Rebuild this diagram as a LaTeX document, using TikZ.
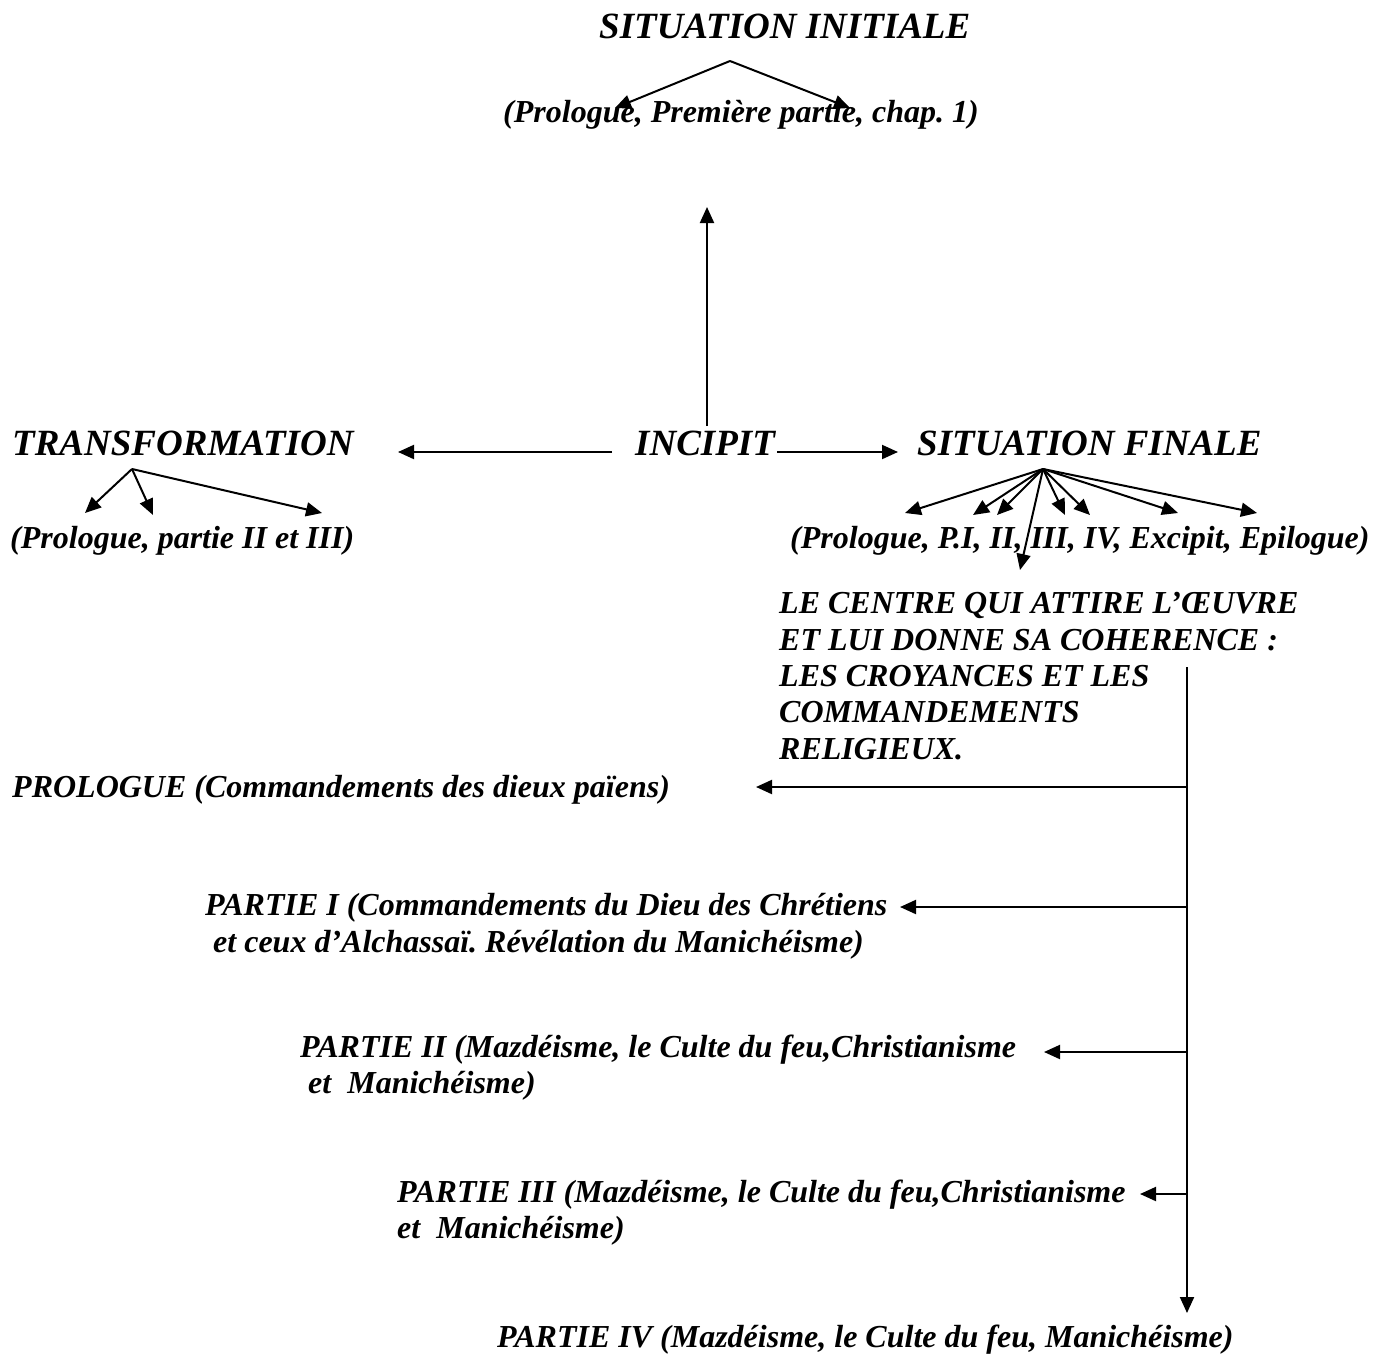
\documentclass[tikz,border=0pt]{standalone}
\usepackage{fontspec}
\setmainfont{Liberation Serif}
\usetikzlibrary{arrows.meta}
\frenchspacing
\begin{document}
\begin{tikzpicture}[x=1pt,y=-1pt,
  txt/.style={anchor=base west, inner sep=0pt, font=\fontsize{32}{36}\selectfont\bfseries\itshape},
  head/.style={anchor=base west, inner sep=0pt, font=\fontsize{37}{40}\selectfont\bfseries\itshape},
  ln/.style={line width=2pt},
  arr/.style={ln, -{Triangle[length=16pt,width=14pt]}}]
\useasboundingbox[fill=white] (0,0) rectangle (1378,1354);

% headings
\node[head] (si)  at (599,38)  {SITUATION INITIALE};
\node[txt]  (sisub) at (503,122) {(Prologue, Première partie, chap. 1)};
\node[head] (tr)  at (12,455)  {TRANSFORMATION};
\node[head] (inc) at (635,455) {INCIPIT};
\node[head] (sf)  at (917,455) {SITUATION FINALE};
\node[txt]  (trsub) at (10,548)  {(Prologue, partie II et III)};
\node[txt]  (sfsub) at (790,548) {(Prologue, P.I, II, III, IV, Excipit, Epilogue)};

% the centre of the work
\node[txt] (cen1) at (779,613) {LE CENTRE QUI ATTIRE L’ŒUVRE};
\node[txt] (cen2) at (779,650) {ET LUI DONNE SA COHERENCE :};
\node[txt] (cen3) at (779,686) {LES CROYANCES ET LES};
\node[txt] (cen4) at (779,722) {COMMANDEMENTS};
\node[txt] (cen5) at (779,759) {RELIGIEUX.};

% parts
\node[txt] (pro) at (12,797) {PROLOGUE (Commandements des dieux païens)};
\node[txt] (p1a) at (205,915) {PARTIE I (Commandements du Dieu des Chrétiens};
\node[txt] (p1b) at (213,952) {et ceux d’Alchassaï. Révélation du Manichéisme)};
\node[txt] (p2a) at (300,1057) {PARTIE II (Mazdéisme, le Culte du feu,Christianisme};
\node[txt] (p2b) at (308,1093) {et \ Manichéisme)};
\node[txt] (p3a) at (397,1202) {PARTIE III (Mazdéisme, le Culte du feu,Christianisme};
\node[txt] (p3b) at (397,1238) {et \ Manichéisme)};
\node[txt] (p4)  at (497,1347) {PARTIE IV (Mazdéisme, le Culte du feu, Manichéisme)};

% connector end points
\coordinate (incup)  at (707,426);
\coordinate (uptip)  at (707,207);
\coordinate (incl)   at (612,452);
\coordinate (trtip)  at (398,452);
\coordinate (incr)   at (777,452);
\coordinate (sftip)  at (898,452);
\coordinate (siap)   at (730,61);
\coordinate (trap)   at (132,469);
\coordinate (sfap)   at (1043,469);
\coordinate (vtop)   at (1187,667);
\coordinate (vbot)   at (1187,1313);
\coordinate (bpro)   at (1187,787);
\coordinate (bp1)    at (1187,907);
\coordinate (bp2)    at (1187,1052);
\coordinate (bp3)    at (1187,1194);
\coordinate (tpro)   at (756,787);
\coordinate (tp1)    at (900,907);
\coordinate (tp2)    at (1044,1052);
\coordinate (tp3)    at (1140,1194);

% incipit arrows
\draw[arr] (incup) -- (uptip);
\draw[arr] (incl) -- (trtip);
\draw[arr] (incr) -- (sftip);

% fans
\draw[arr] (siap) -- (615,108);
\draw[arr] (siap) -- (850,108);

\draw[arr] (trap) -- (85,513);
\draw[arr] (trap) -- (153,515);
\draw[arr] (trap) -- (322,513);

\foreach \p in {(905,513),(973,515),(997,515),(1065,515),(1090,515),(1178,513),(1257,513),(1020,570)}
  \draw[arr] (sfap) -- \p;

% vertical spine and branches
\draw[arr] (vtop) -- (vbot);
\draw[arr] (bpro) -- (tpro);
\draw[arr] (bp1) -- (tp1);
\draw[arr] (bp2) -- (tp2);
\draw[arr] (bp3) -- (tp3);
\end{tikzpicture}
\end{document}
